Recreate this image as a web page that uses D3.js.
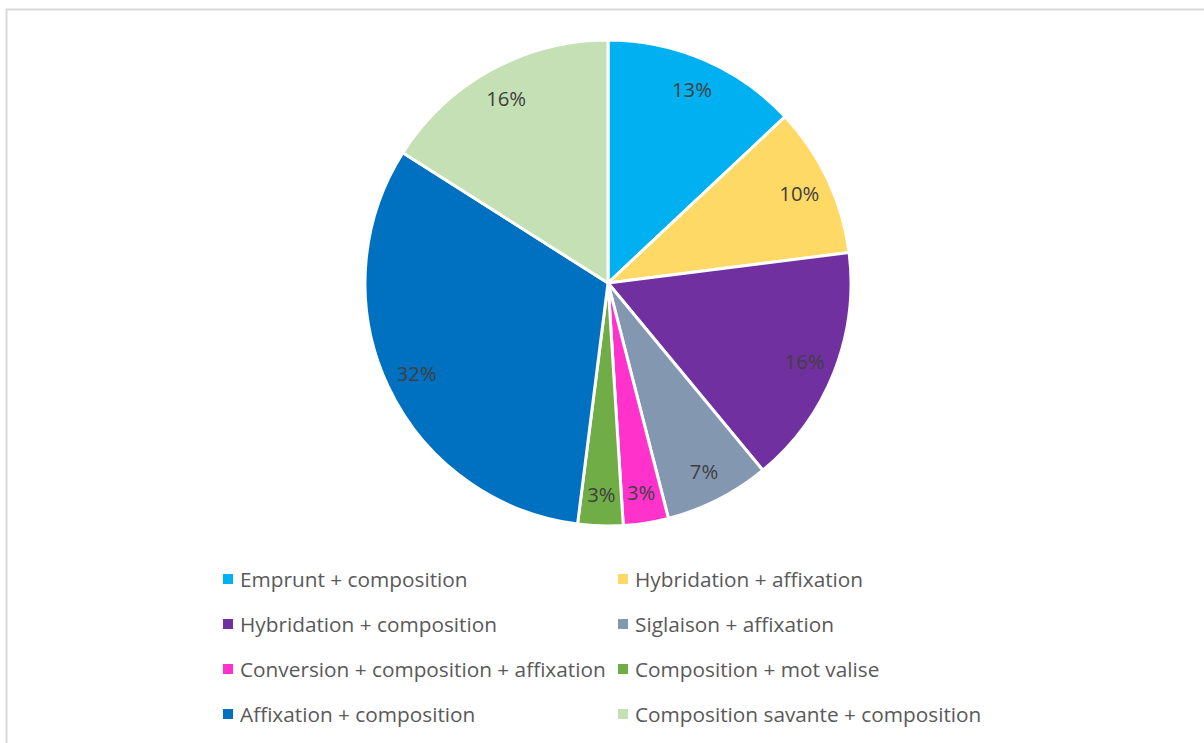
<!DOCTYPE html>
<html>
<head>
<meta charset="utf-8">
<script src="https://cdn.jsdelivr.net/npm/d3@7"></script>
<style>
  html, body { margin: 0; padding: 0; background: #fff; }
  svg { display: block; }
</style>
</head>
<body>
<svg id="chart" width="1204" height="743"></svg>
<script>
// Procédés de formation combinés — part de chaque combinaison (en %)
const categories = [
  "Emprunt + composition",
  "Hybridation + affixation",
  "Hybridation + composition",
  "Siglaison + affixation",
  "Conversion + composition + affixation",
  "Composition + mot valise",
  "Affixation + composition",
  "Composition savante + composition"
];
const values = [13, 10, 16, 7, 3, 3, 32, 16];
const colors = ["#00B0F0", "#FFD966", "#7030A0", "#8497B0", "#FF33CC", "#70AD47", "#0070C0", "#C5E0B4"];

const data = categories.map((c, i) => ({ name: c, value: values[i], color: colors[i] }));

const FONT = "'Open Sans', 'Liberation Sans', sans-serif";
const svg = d3.select("#chart");

// chart frame
svg.append("rect")
  .attr("x", 6.5).attr("y", 9.5)
  .attr("width", 1300).attr("height", 800)
  .attr("fill", "#fff")
  .attr("stroke", "#D9D9D9")
  .attr("stroke-width", 2);

const cx = 608, cy = 283, R = 243;

const pie = d3.pie().value(d => d.value).sort(null);
const arc = d3.arc().innerRadius(0).outerRadius(R);
const labelArc = d3.arc().innerRadius(R * 0.87).outerRadius(R * 0.87);

const g = svg.append("g").attr("transform", `translate(${cx},${cy})`);
const arcs = pie(data);

g.selectAll("path.slice")
  .data(arcs)
  .join("path")
  .attr("class", "slice")
  .attr("d", arc)
  .attr("fill", d => d.data.color)
  .attr("stroke", "#fff")
  .attr("stroke-width", 3)
  .attr("stroke-linejoin", "round");

g.selectAll("text.pct")
  .data(arcs)
  .join("text")
  .attr("class", "pct")
  .attr("transform", d => `translate(${labelArc.centroid(d)})`)
  .attr("text-anchor", "middle")
  .attr("dominant-baseline", "central")
  .attr("font-family", FONT)
  .attr("font-size", 18)
  .attr("fill", "#404040")
  .text(d => d.data.value + "%");

// legend: two columns, four rows
const legend = svg.append("g");
const colX = [223, 618], rowY0 = 579, rowStep = 45;
const items = legend.selectAll("g.item")
  .data(data)
  .join("g")
  .attr("class", "item")
  .attr("transform", (d, i) => `translate(${colX[i % 2]},${rowY0 + Math.floor(i / 2) * rowStep})`);

items.append("rect")
  .attr("x", 0).attr("y", -5)
  .attr("width", 10).attr("height", 10)
  .attr("fill", d => d.color);

items.append("text")
  .attr("x", 17).attr("y", 0)
  .attr("dominant-baseline", "central")
  .attr("font-family", FONT)
  .attr("font-size", 19)
  .attr("fill", "#595959")
  .text(d => d.name);

// size legend and label text to the layout widths
function fit(sel, targetW, baseSize) {
  const n = sel.node();
  const w = n.getComputedTextLength();
  return w > 0 ? baseSize * targetW / w : baseSize;
}
const longest = items.selectAll("text").filter(d => d.name === categories[4]);
const legendSize = fit(longest, 366, 19);
items.selectAll("text").attr("font-size", legendSize);

const pctSample = g.selectAll("text.pct").filter(d => d.data.value === 13);
const pctSize = fit(pctSample, 40, 18);
g.selectAll("text.pct").attr("font-size", pctSize);
</script>
</body>
</html>
